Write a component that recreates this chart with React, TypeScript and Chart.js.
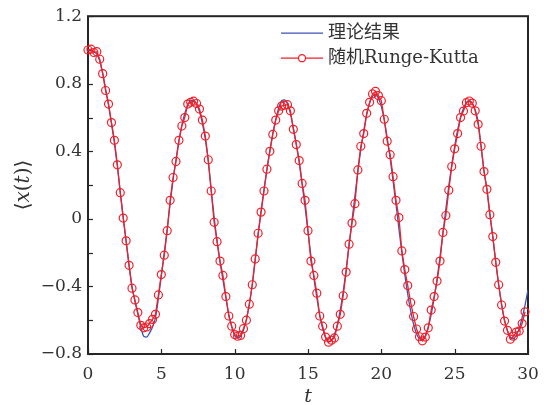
import React, { useEffect, useRef } from "react";
import { Chart, registerables } from "chart.js";

Chart.register(...registerables);

// time grid, t = 0 … 30 in steps of 0.2
const timeGrid = [
  0, 0.2, 0.4, 0.6, 0.8, 1, 1.2, 1.4, 1.6, 1.8,
  2, 2.2, 2.4, 2.6, 2.8, 3, 3.2, 3.4, 3.6, 3.8,
  4, 4.2, 4.4, 4.6, 4.8, 5, 5.2, 5.4, 5.6, 5.8,
  6, 6.2, 6.4, 6.6, 6.8, 7, 7.2, 7.4, 7.6, 7.8,
  8, 8.2, 8.4, 8.6, 8.8, 9, 9.2, 9.4, 9.6, 9.8,
  10, 10.2, 10.4, 10.6, 10.8, 11, 11.2, 11.4, 11.6, 11.8,
  12, 12.2, 12.4, 12.6, 12.8, 13, 13.2, 13.4, 13.6, 13.8,
  14, 14.2, 14.4, 14.6, 14.8, 15, 15.2, 15.4, 15.6, 15.8,
  16, 16.2, 16.4, 16.6, 16.8, 17, 17.2, 17.4, 17.6, 17.8,
  18, 18.2, 18.4, 18.6, 18.8, 19, 19.2, 19.4, 19.6, 19.8,
  20, 20.2, 20.4, 20.6, 20.8, 21, 21.2, 21.4, 21.6, 21.8,
  22, 22.2, 22.4, 22.6, 22.8, 23, 23.2, 23.4, 23.6, 23.8,
  24, 24.2, 24.4, 24.6, 24.8, 25, 25.2, 25.4, 25.6, 25.8,
  26, 26.2, 26.4, 26.6, 26.8, 27, 27.2, 27.4, 27.6, 27.8,
  28, 28.2, 28.4, 28.6, 28.8, 29, 29.2, 29.4, 29.6, 29.8,
  30,
];

// theoretical <x(t)>
const theoryValues = [
  1.0, 0.998, 0.99, 0.975, 0.935, 0.865, 0.77, 0.675, 0.565, 0.45,
  0.315, 0.16, 0.01, -0.135, -0.275, -0.4, -0.49, -0.565, -0.64, -0.695,
  -0.7, -0.675, -0.64, -0.585, -0.47, -0.335, -0.2, -0.06, 0.09, 0.23,
  0.35, 0.46, 0.555, 0.625, 0.675, 0.7, 0.7, 0.68, 0.635, 0.565,
  0.47, 0.34, 0.175, 0.01, -0.13, -0.255, -0.36, -0.465, -0.565, -0.64,
  -0.69, -0.705, -0.695, -0.66, -0.595, -0.505, -0.39, -0.245, -0.095, 0.045,
  0.175, 0.295, 0.405, 0.505, 0.59, 0.655, 0.7, 0.705, 0.68, 0.625,
  0.54, 0.445, 0.335, 0.205, 0.07, -0.075, -0.22, -0.35, -0.465, -0.57,
  -0.65, -0.705, -0.728, -0.72, -0.685, -0.625, -0.54, -0.43, -0.3, -0.155,
  -0.01, 0.135, 0.28, 0.41, 0.52, 0.615, 0.685, 0.725, 0.735, 0.715,
  0.665, 0.585, 0.48, 0.36, 0.225, 0.085, -0.06, -0.2, -0.33, -0.445,
  -0.545, -0.625, -0.68, -0.71, -0.715, -0.69, -0.64, -0.565, -0.47, -0.355,
  -0.225, -0.085, 0.06, 0.195, 0.32, 0.43, 0.525, 0.6, 0.655, 0.69,
  0.7, 0.685, 0.645, 0.575, 0.43, 0.285, 0.175, 0.03, -0.105, -0.255,
  -0.39, -0.505, -0.6, -0.665, -0.7, -0.71, -0.69, -0.65, -0.585, -0.51,
  -0.42,
];

// stochastic Runge-Kutta estimate, t = 0 … 29.8
const rkValues = [
  1.0, 1.005, 0.985, 0.99, 0.945, 0.86, 0.76, 0.68, 0.57, 0.465,
  0.32, 0.155, 0.005, -0.13, -0.275, -0.41, -0.48, -0.555, -0.63, -0.645,
  -0.64, -0.62, -0.595, -0.565, -0.45, -0.33, -0.215, -0.07, 0.11, 0.245,
  0.34, 0.465, 0.55, 0.6, 0.68, 0.69, 0.697, 0.683, 0.65, 0.585,
  0.49, 0.35, 0.165, -0.02, -0.135, -0.25, -0.335, -0.46, -0.575, -0.635,
  -0.685, -0.695, -0.69, -0.65, -0.6, -0.505, -0.39, -0.237, -0.085, 0.04,
  0.165, 0.294, 0.4, 0.5, 0.585, 0.64, 0.668, 0.673, 0.676, 0.64,
  0.53, 0.44, 0.345, 0.21, 0.11, -0.07, -0.25, -0.335, -0.44, -0.575,
  -0.635, -0.7, -0.73, -0.718, -0.705, -0.635, -0.565, -0.455, -0.315, -0.15,
  -0.025, 0.09, 0.29, 0.43, 0.505, 0.625, 0.69, 0.74, 0.755, 0.73,
  0.7, 0.59, 0.46, 0.38, 0.25, 0.11, 0.008, -0.19, -0.3, -0.395,
  -0.495, -0.578, -0.652, -0.698, -0.722, -0.7, -0.645, -0.54, -0.46, -0.368,
  -0.25, -0.08, 0.02, 0.17, 0.31, 0.415, 0.505, 0.6, 0.638, 0.688,
  0.698, 0.685, 0.64, 0.56, 0.43, 0.28, 0.175, 0.025, -0.105, -0.257,
  -0.39, -0.51, -0.605, -0.66, -0.712, -0.695, -0.67, -0.664, -0.62, -0.55,
];

const xTickValues = [0, 5, 10, 15, 20, 25, 30];
const xTickLabels = ["0", "5", "10", "15", "20", "25", "30"];
const yTickValues = [-0.8, -0.4, 0, 0.4, 0.8, 1.2];
const yTickLabels = ["\u22120.8", "\u22120.4", "0", "0.4", "0.8", "1.2"];

const seriesNames = ["理论结果", "随机Runge-Kutta"];

const BLUE = "#3a55b4";
const RED = "#f0202a";
const INK = "#262626";
const SERIF = "'DejaVu Serif', 'Noto Sans CJK SC', serif";

function labelFor(values: number[], labels: string[], v: number) {
  const i = values.findIndex((t) => Math.abs(t - v) < 1e-6);
  return i >= 0 ? labels[i] : "";
}

const decorPlugin = {
  id: "decor",
  beforeDatasetsDraw(chart: any) {
    const { ctx, chartArea: a, scales } = chart;
    ctx.save();
    ctx.strokeStyle = INK;
    ctx.lineWidth = 1.2;
    // inward ticks on the bottom axis
    for (const v of xTickValues) {
      const px = Math.round(scales.x.getPixelForValue(v)) + 0.5;
      ctx.beginPath();
      ctx.moveTo(px, a.bottom);
      ctx.lineTo(px, a.bottom - 5);
      ctx.stroke();
    }
    // inward ticks on the left axis
    for (const t of scales.y.ticks) {
      const py = Math.round(scales.y.getPixelForValue(t.value)) + 0.5;
      ctx.beginPath();
      ctx.moveTo(a.left, py);
      ctx.lineTo(a.left + 5, py);
      ctx.stroke();
    }
    ctx.lineWidth = 2;
    ctx.strokeRect(a.left, a.top, a.right - a.left, a.bottom - a.top);
    ctx.restore();
  },
  afterDraw(chart: any) {
    const { ctx, chartArea: a } = chart;
    ctx.save();

    // legend
    const x0 = a.right - 247;
    const x1 = a.right - 205;
    const tx = a.right - 200;
    const rows = [a.top + 17, a.top + 42];
    ctx.lineWidth = 1.3;
    ctx.strokeStyle = BLUE;
    ctx.beginPath();
    ctx.moveTo(x0, rows[0]);
    ctx.lineTo(x1, rows[0]);
    ctx.stroke();
    ctx.strokeStyle = RED;
    ctx.beginPath();
    ctx.moveTo(x0, rows[1]);
    ctx.lineTo(x1, rows[1]);
    ctx.stroke();
    ctx.fillStyle = "#fff";
    ctx.beginPath();
    ctx.arc((x0 + x1) / 2, rows[1], 3.5, 0, Math.PI * 2);
    ctx.fill();
    ctx.stroke();

    ctx.fillStyle = "#333";
    ctx.textBaseline = "middle";
    ctx.textAlign = "left";
    ctx.font = `18px ${SERIF}`;
    ctx.fillText(seriesNames[0], tx, rows[0]);
    ctx.fillText(seriesNames[1], tx, rows[1]);

    // x-axis title
    ctx.textAlign = "center";
    ctx.textBaseline = "middle";
    ctx.font = `italic 19px ${SERIF}`;
    ctx.fillText("t", (a.left + a.right) / 2, 397);

    // y-axis title <x(t)>
    const parts: [string, boolean][] = [
      ["\u27E8", false],
      ["x", true],
      ["(", false],
      ["t", true],
      [")", false],
      ["\u27E9", false],
    ];
    const fontFor = (it: boolean) => `${it ? "italic " : ""}20px ${SERIF}`;
    let total = 0;
    for (const [s, it] of parts) {
      ctx.font = fontFor(it);
      total += ctx.measureText(s).width;
    }
    ctx.translate(24, 185);
    ctx.rotate(-Math.PI / 2);
    ctx.textAlign = "left";
    let cx = -total / 2;
    for (const [s, it] of parts) {
      ctx.font = fontFor(it);
      ctx.fillText(s, cx, 0);
      cx += ctx.measureText(s).width;
    }
    ctx.restore();
  },
};

export default function App() {
  const canvasRef = useRef<HTMLCanvasElement | null>(null);

  useEffect(() => {
    document.body.style.margin = "0";
    const canvas = canvasRef.current;
    if (!canvas) return;

    const theoryPoints = timeGrid.map((t, i) => ({ x: t, y: theoryValues[i] }));
    const rkPoints = rkValues.map((v, i) => ({ x: timeGrid[i], y: v }));

    const chart = new Chart(canvas, {
      type: "line",
      data: {
        datasets: [
          {
            label: seriesNames[1],
            data: rkPoints,
            borderColor: RED,
            backgroundColor: "rgba(0,0,0,0)",
            borderWidth: 1.3,
            pointRadius: 4,
            pointBorderWidth: 1.2,
            pointBorderColor: RED,
            pointBackgroundColor: "rgba(0,0,0,0)",
            tension: 0,
            clip: false,
            order: 0,
          },
          {
            label: seriesNames[0],
            data: theoryPoints,
            borderColor: BLUE,
            borderWidth: 1.3,
            pointRadius: 0,
            cubicInterpolationMode: "monotone",
            order: 1,
          },
        ],
      },
      options: {
        responsive: false,
        animation: false,
        devicePixelRatio: 1,
        layout: { padding: { left: 0, right: 27, top: 11, bottom: 0 } },
        plugins: {
          legend: { display: false },
          tooltip: { enabled: false },
        },
        scales: {
          x: {
            type: "linear",
            min: 0,
            max: 30,
            grid: { display: false, drawTicks: false },
            border: { display: false },
            ticks: {
              stepSize: 5,
              padding: 10,
              color: "#333",
              font: { family: SERIF, size: 17 },
              maxRotation: 0,
              callback: (v: any) => labelFor(xTickValues, xTickLabels, Number(v)),
            },
            afterFit: (s: any) => {
              s.height = 51;
            },
          },
          y: {
            type: "linear",
            min: -0.8,
            max: 1.2,
            grid: { display: false, drawTicks: false },
            border: { display: false },
            ticks: {
              stepSize: 0.2,
              padding: 6,
              color: "#333",
              font: { family: SERIF, size: 17 },
              autoSkip: false,
              callback: (v: any) => labelFor(yTickValues, yTickLabels, Number(v)),
            },
            afterFit: (s: any) => {
              s.width = 88;
            },
          },
        },
      },
      plugins: [decorPlugin],
    });

    return () => chart.destroy();
  }, []);

  return (
    <div style={{ width: 555, height: 405, background: "#fff" }}>
      <canvas ref={canvasRef} width={555} height={405} style={{ display: "block" }} />
    </div>
  );
}
